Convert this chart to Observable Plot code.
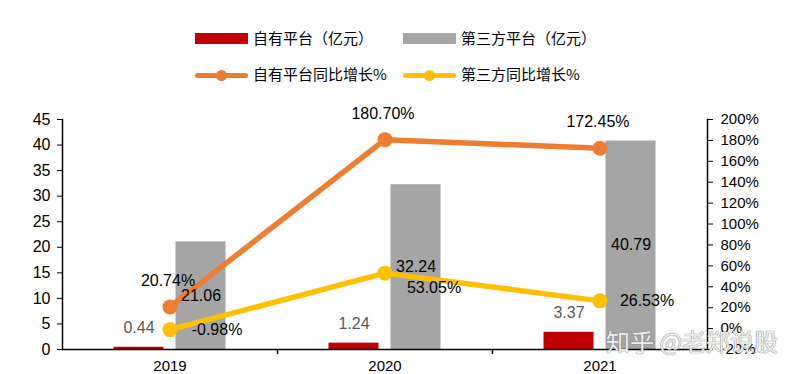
<!DOCTYPE html>
<html>
<head>
<meta charset="utf-8">
<script src="https://cdn.jsdelivr.net/npm/d3@7"></script>
<script src="https://cdn.jsdelivr.net/npm/@observablehq/plot@0.6"></script>
<style>
  html, body { margin: 0; padding: 0; background: #fff; }
  body { width: 797px; height: 374px; overflow: hidden; position: relative; font-family: "Liberation Sans", Arial, sans-serif; }
  #legend { position: relative; width: 797px; height: 100px; font-family: "Noto Sans CJK SC", sans-serif; font-size: 15px; color: #000; }
  .sw { position: absolute; }
  .lbl { position: absolute; height: 20px; line-height: 20px; white-space: nowrap; }
  .dotsw { position: absolute; width: 11px; height: 11px; border-radius: 50%; }
  #chart svg { display: block; }
  #wm { position: absolute; left: 606px; top: 326px; font-family: "Noto Sans CJK SC", sans-serif; font-size: 24px; line-height: 30px; color: rgba(255,255,255,0.9); text-shadow: 0 0 1px #777, 0 0 1px #777; white-space: nowrap; pointer-events: none; }
</style>
</head>
<body>
<div id="legend"></div>
<div id="chart"></div>
<div id="wm">知乎 @老郑说股</div>
<script>
// ---- data ----
const years = ["2019", "2020", "2021"];
const ownPlatform = [0.44, 1.24, 3.37];          // 自有平台（亿元）
const thirdParty = [21.06, 32.24, 40.79];        // 第三方平台（亿元）
const ownGrowth = [20.74, 180.70, 172.45];       // 自有平台同比增长%
const thirdGrowth = [-0.98, 53.05, 26.53];       // 第三方同比增长%
const leftTicks = [0, 5, 10, 15, 20, 25, 30, 35, 40, 45];
const rightTicks = [-20, 0, 20, 40, 60, 80, 100, 120, 140, 160, 180, 200];
const seriesNames = ["自有平台（亿元）", "第三方平台（亿元）", "自有平台同比增长%", "第三方同比增长%"];
const colors = ["#C00000", "#A5A5A5", "#ED7D31", "#FFC000"];

// ---- legend (HTML) ----
const legend = document.getElementById("legend");
const legendItems = [
  {name: seriesNames[0], color: colors[0], kind: "rect", left: 195, cy: 38.5},
  {name: seriesNames[1], color: colors[1], kind: "rect", left: 403, cy: 38.5},
  {name: seriesNames[2], color: colors[2], kind: "line", left: 195, cy: 75},
  {name: seriesNames[3], color: colors[3], kind: "line", left: 403, cy: 75}
];
for (const it of legendItems) {
  if (it.kind === "rect") {
    const s = document.createElement("div");
    s.className = "sw";
    Object.assign(s.style, {left: it.left + "px", top: (it.cy - 5.5) + "px", width: "53px", height: "11px", background: it.color});
    legend.appendChild(s);
  } else {
    const s = document.createElement("div");
    s.className = "sw";
    Object.assign(s.style, {left: it.left + "px", top: (it.cy - 2.5) + "px", width: "53px", height: "5px", background: it.color, borderRadius: "2.5px"});
    legend.appendChild(s);
    const d = document.createElement("div");
    d.className = "dotsw";
    Object.assign(d.style, {left: (it.left + 26.5 - 5.5) + "px", top: (it.cy - 5.5) + "px", background: it.color});
    legend.appendChild(d);
  }
  const t = document.createElement("div");
  t.className = "lbl";
  t.textContent = it.name;
  Object.assign(t.style, {left: (it.left + 58) + "px", top: (it.cy - 11) + "px"});
  legend.appendChild(t);
}

// ---- chart ----
const rows = years.map((y, i) => ({year: y, own: ownPlatform[i], third: thirdParty[i], og: ownGrowth[i], tg: thirdGrowth[i], i}));
const L0 = 0, L1 = 45, R0 = -20, R1 = 200;
const P = p => L0 + (p - R0) * (L1 - L0) / (R1 - R0);     // right-axis % -> left-axis units
const Pinv = v => R0 + (v - L0) * (R1 - R0) / (L1 - L0);

const W = 797, H = 274, mL = 62, mR = 90, mT = 19, mB = 25;
const band = (W - mL - mR) / years.length;
const barW = 50, gap = 12;
const redInL = band / 2 - gap / 2 - barW, redInR = band / 2 + gap / 2;
const grayInL = band / 2 + gap / 2, grayInR = band / 2 - gap / 2 - barW;
const redCx = -(gap / 2 + barW / 2), grayCx = gap / 2 + barW / 2;

const font = "Liberation Sans, Arial, sans-serif";
const chart = Plot.plot({
  width: W, height: H,
  marginTop: mT, marginBottom: mB, marginLeft: mL, marginRight: mR,
  style: {fontFamily: font, fontSize: "15px", color: "#000", background: "#fff", overflow: "visible"},
  x: {domain: years, padding: 0, label: null},
  y: {domain: [L0, L1], label: null},
  marks: [
    Plot.barY(rows, {x: "year", y: "own", fill: colors[0], insetLeft: redInL, insetRight: redInR}),
    Plot.barY(rows, {x: "year", y: "third", fill: colors[1], insetLeft: grayInL, insetRight: grayInR}),
    Plot.ruleY([0], {stroke: "#000", strokeWidth: 1.5}),
    Plot.frame({anchor: "left", stroke: "#000", strokeWidth: 1.5}),
    Plot.frame({anchor: "right", stroke: "#000", strokeWidth: 1.5}),
    Plot.ruleX(years.slice(1), {x: d => d, dx: -band / 2, y1: 0, y2: -1, stroke: "#000", strokeWidth: 1.5}),
    Plot.line(rows, {x: "year", y: d => P(d.og), stroke: colors[2], strokeWidth: 5.5}),
    Plot.line(rows, {x: "year", y: d => P(d.tg), stroke: colors[3], strokeWidth: 5.5}),
    Plot.dot(rows, {x: "year", y: d => P(d.og), r: 7.5, fill: colors[2]}),
    Plot.dot(rows, {x: "year", y: d => P(d.tg), r: 7.5, fill: colors[3]}),
    // bar labels
    Plot.text(rows, {x: "year", y: "own", text: d => d.own.toFixed(2), dx: redCx, dy: -19, fill: "#595959", fontSize: 16}),
    Plot.text(rows, {x: "year", y: d => d.third / 2, text: d => d.third.toFixed(2), dx: grayCx, fill: "#000", fontSize: 16}),
    // growth labels
    Plot.text(rows, {x: "year", y: d => P(d.og), text: d => d.og.toFixed(2) + "%", dx: -2, dy: -26, fill: "#000", fontSize: 16}),
    Plot.text(rows.filter(d => d.i !== 1), {x: "year", y: d => P(d.tg), text: d => d.tg.toFixed(2) + "%", dx: 47, dy: 0, fill: "#000", fontSize: 16}),
    Plot.text(rows.filter(d => d.i === 1), {x: "year", y: d => P(d.tg), text: d => d.tg.toFixed(2) + "%", dx: 49, dy: 15, fill: "#000", fontSize: 16}),
    // axes
    Plot.axisX({anchor: "bottom", tickSize: 0, tickPadding: 11, label: null, fontSize: 15}),
    Plot.axisY({anchor: "left", ticks: leftTicks, tickSize: 5, tickPadding: 7, label: null, fontSize: 16}),
    Plot.axisY({anchor: "right", ticks: rightTicks.map(P), tickFormat: v => Math.round(Pinv(v)) + "%", tickSize: 5, tickPadding: 8, label: null, fontSize: 15})
  ]
});
document.getElementById("chart").appendChild(chart);
</script>
</body>
</html>
